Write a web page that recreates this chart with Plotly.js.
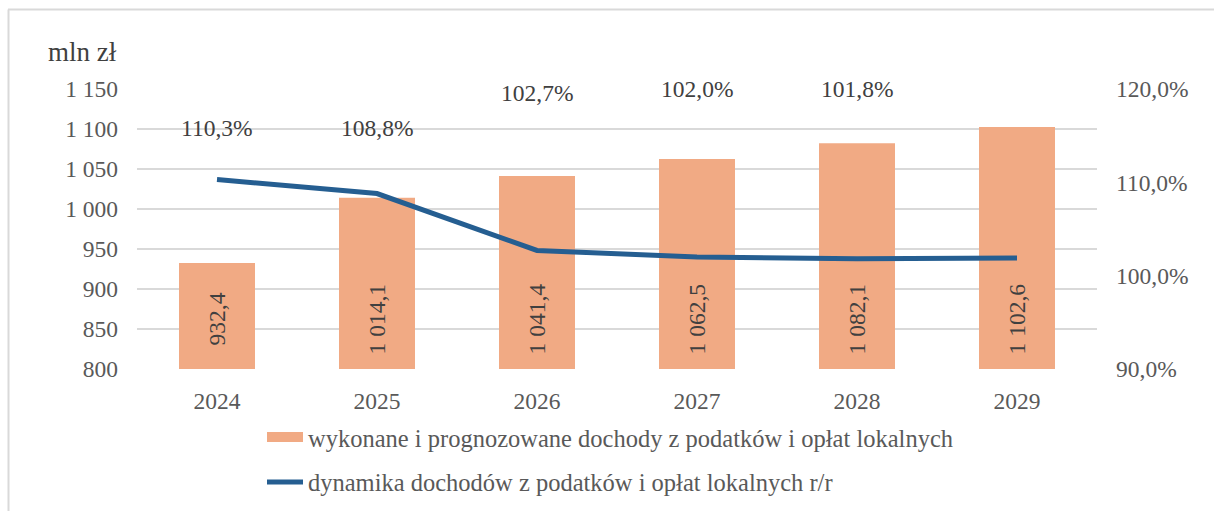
<!DOCTYPE html>
<html>
<head>
<meta charset="utf-8">
<script src="https://cdn.plot.ly/plotly-3.0.1.min.js"></script>
<style>html,body{margin:0;padding:0;background:#fff;}#chart{width:1214px;height:511px;}</style>
</head>
<body>
<div id="chart"></div>
<script>
// ---- data ----
const years = ['2024', '2025', '2026', '2027', '2028', '2029'];
const revenue = [932.4, 1014.1, 1041.4, 1062.5, 1082.1, 1102.6];
const dynamics = [110.3, 108.8, 102.7, 102.0, 101.8, 101.9];
const revenueLabels = ['932,4', '1 014,1', '1 041,4', '1 062,5', '1 082,1', '1 102,6'];
const dynamicsLabels = ['110,3%', '108,8%', '102,7%', '102,0%', '101,8%', '101,9%'];
// label anchor heights (right-axis units), as placed in the source chart
const dynamicsLabelY = [115.8, 115.8, 119.6, 120.0, 120.0, 120.75];
const barName = 'wykonane i prognozowane dochody z podatków i opłat lokalnych';
const lineName = 'dynamika dochodów z podatków i opłat lokalnych r/r';

// pick an installed serif face (Times-like)
function pickFont(cands) {
  const c = document.createElement('canvas').getContext('2d');
  const sample = 'wykonane 1 014,1 mln zł WMi';
  function w(f) { c.font = '40px ' + f; return c.measureText(sample).width; }
  const bases = ['monospace', 'sans-serif'];
  for (const f of cands) {
    const q = '"' + f + '"';
    let ok = false;
    for (const b of bases) { if (Math.abs(w(q + ',' + b) - w(b)) > 0.5) ok = true; }
    if (ok) return f;
  }
  return 'serif';
}
const FONT = pickFont(['Liberation Serif', 'Times New Roman', 'Tinos', 'DejaVu Serif']);
const GRAY = '#595959';
const DARK = '#404040';
const BAR = '#F1AA84';
const LINE = '#255E91';
const FS = 23.5;

const traces = [
  {
    type: 'bar', x: years, y: revenue, name: barName,
    marker: {color: BAR}, width: 0.475, showlegend: false, hoverinfo: 'skip'
  },
  { // legend swatch for the bars (wide rectangle as in the source)
    type: 'scatter', mode: 'lines', x: [null], y: [null], name: barName,
    line: {color: BAR, width: 10}, legendgroup: 'a', hoverinfo: 'skip'
  },
  {
    type: 'scatter', mode: 'lines', x: years, y: dynamics, name: lineName,
    yaxis: 'y2', line: {color: LINE, width: 5},
    legendgroup: 'b', hoverinfo: 'skip'
  }
];

const annotations = [];
years.forEach((yr, i) => {
  annotations.push({
    x: i, y: 862, xref: 'x', yref: 'y', text: revenueLabels[i], textangle: -90,
    showarrow: false, font: {family: FONT, size: FS, color: DARK}
  });
  annotations.push({
    x: i, y: dynamicsLabelY[i], xref: 'x', yref: 'y2', text: dynamicsLabels[i],
    showarrow: false, font: {family: FONT, size: FS, color: DARK}
  });
});
annotations.push({
  x: (46 - 137) / 960, xanchor: 'left', y: (369 - 52) / 280, yanchor: 'middle',
  xref: 'paper', yref: 'paper', text: 'mln zł', showarrow: false,
  font: {family: FONT, size: 27, color: DARK}
});

const layout = {
  width: 1214, height: 511,
  margin: {l: 137, r: 117, t: 89, b: 142, pad: 0, autoexpand: false},
  paper_bgcolor: '#ffffff', plot_bgcolor: '#ffffff',
  separators: ', ',
  font: {family: FONT, size: FS, color: GRAY},
  showlegend: true,
  xaxis: {
    type: 'category', range: [-0.5, 5.5], showgrid: false, zeroline: false, showline: false,
    ticks: '', ticklabelstandoff: 15,
    tickfont: {family: FONT, size: FS, color: GRAY}
  },
  yaxis: {
    range: [800, 1150], dtick: 50, tickformat: ',d',
    showgrid: true, gridcolor: '#d9d9d9', gridwidth: 1.5, zeroline: false,
    showline: false, ticks: '', ticklabelstandoff: 18,
    tickfont: {family: FONT, size: FS, color: GRAY}
  },
  yaxis2: {
    overlaying: 'y', side: 'right', range: [90, 120], dtick: 10,
    tickformat: '.1f', ticksuffix: '%', showgrid: false, zeroline: false,
    showline: false, ticks: '', ticklabelstandoff: 18,
    tickfont: {family: FONT, size: FS, color: GRAY}
  },
  legend: {
    orientation: 'v', x: (262 - 137) / 960, xanchor: 'left',
    y: -(414.6 - 369) / 280, yanchor: 'top',
    traceorder: 'grouped', tracegroupgap: 10,
    font: {family: FONT, size: 24.5, color: GRAY}, bgcolor: 'rgba(0,0,0,0)',
    itemwidth: 36
  },
  annotations: annotations,
  shapes: [
    {type: 'line', xref: 'paper', yref: 'paper', x0: (8 - 137) / 960, x1: (1214 - 137) / 960,
     y0: (369 - 9.5) / 280, y1: (369 - 9.5) / 280, line: {color: '#d9d9d9', width: 2}},
    {type: 'line', xref: 'paper', yref: 'paper', x0: (8.5 - 137) / 960, x1: (8.5 - 137) / 960,
     y0: (369 - 9.5) / 280, y1: -142 / 280, line: {color: '#d9d9d9', width: 2}}
  ]
};

Plotly.newPlot('chart', traces, layout, {staticPlot: true, displayModeBar: false});
</script>
</body>
</html>
